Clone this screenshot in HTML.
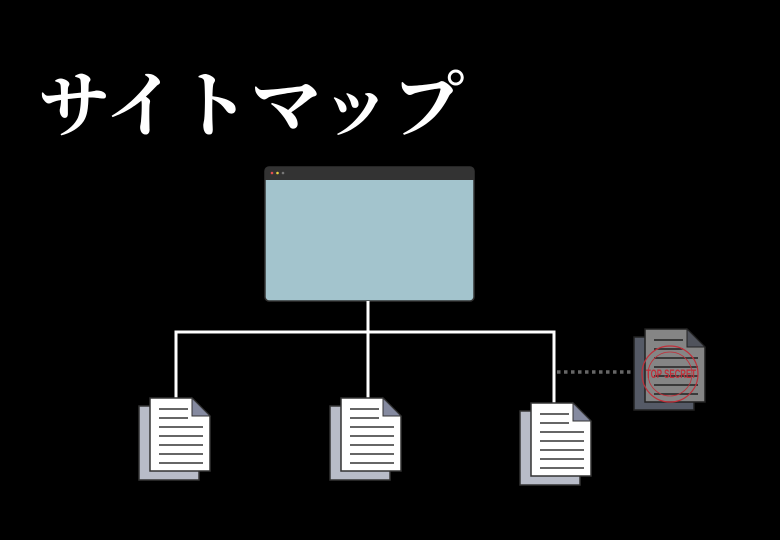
<!DOCTYPE html>
<html><head><meta charset="utf-8"><style>html,body{margin:0;padding:0;background:#000;}svg{display:block}</style></head>
<body>
<svg width="780" height="540" viewBox="0 0 780 540" xmlns="http://www.w3.org/2000/svg">
<rect width="780" height="540" fill="#000"/>
<text x="38" y="131" font-family="'Noto Serif CJK SC','Noto Serif CJK JP',serif" font-size="72" font-weight="bold" fill="#fff" textLength="426" lengthAdjust="spacing">サイトマップ</text>
<!-- browser -->
<rect x="265" y="167" width="209" height="134" rx="4" fill="#a3c4cd" stroke="#333" stroke-width="1.5"/>
<path d="M265 180 V171 a4 4 0 0 1 4 -4 H470 a4 4 0 0 1 4 4 V180 Z" fill="#333"/>
<circle cx="272" cy="173" r="1.3" fill="#e05050"/>
<circle cx="277.5" cy="173" r="1.3" fill="#e8d040"/>
<circle cx="283" cy="173" r="1.3" fill="#777"/>
<!-- connectors -->
<g stroke="#fff" stroke-width="3" fill="none">
<path d="M368 301 V399"/>
<path d="M176 399 V332 H554 V404"/>
</g>
<line x1="557" y1="372" x2="640" y2="372" stroke="#666" stroke-width="3.5" stroke-dasharray="3.5 3.5"/>
<defs>
<g id="doc">
<rect x="0" y="8" width="60" height="74" fill="#b8bcc8" stroke="#333" stroke-width="1.5"/>
<path d="M11 0 H53 L71 18 V73 H11 Z" fill="#fff" stroke="#333" stroke-width="1.5"/>
<path d="M53 0 L71 18 H53 Z" fill="#858aa0" stroke="#333" stroke-width="1"/>
<g stroke="#333" stroke-width="1.5">
<line x1="20" y1="11" x2="49" y2="11"/>
<line x1="20" y1="20" x2="49" y2="20"/>
<line x1="20" y1="29" x2="64" y2="29"/>
<line x1="20" y1="38" x2="64" y2="38"/>
<line x1="20" y1="47" x2="64" y2="47"/>
<line x1="20" y1="56" x2="64" y2="56"/>
<line x1="20" y1="65" x2="64" y2="65"/>
</g>
</g>
</defs>
<use href="#doc" x="139" y="398"/>
<use href="#doc" x="330" y="398"/>
<use href="#doc" x="520" y="403"/>
<!-- secret doc -->
<g transform="translate(634,329)">
<rect x="0" y="8" width="60" height="73" fill="#555a66" stroke="#222" stroke-width="1.5"/>
<path d="M11 0 H53 L71 18 V73 H11 Z" fill="#858585" stroke="#222" stroke-width="1.5"/>
<path d="M53 0 L71 18 H53 Z" fill="#50535c" stroke="#222" stroke-width="1"/>
<g stroke="#222" stroke-width="1.5">
<line x1="20" y1="11" x2="49" y2="11"/>
<line x1="20" y1="20" x2="49" y2="20"/>
<line x1="20" y1="29" x2="64" y2="29"/>
<line x1="20" y1="38" x2="64" y2="38"/>
<line x1="20" y1="47" x2="64" y2="47"/>
<line x1="20" y1="56" x2="64" y2="56"/>
<line x1="20" y1="65" x2="64" y2="65"/>
</g>
<circle cx="36" cy="45" r="28" fill="none" stroke="#c0303a" stroke-width="1.2"/>
<circle cx="36" cy="45" r="22" fill="none" stroke="#c0303a" stroke-width="0.8"/>
<text x="12" y="49" font-family="'Liberation Sans',sans-serif" font-size="12" font-weight="bold" fill="#c0303a" textLength="50" lengthAdjust="spacingAndGlyphs">TOP SECRET</text>
</g>
</svg>
</body></html>
